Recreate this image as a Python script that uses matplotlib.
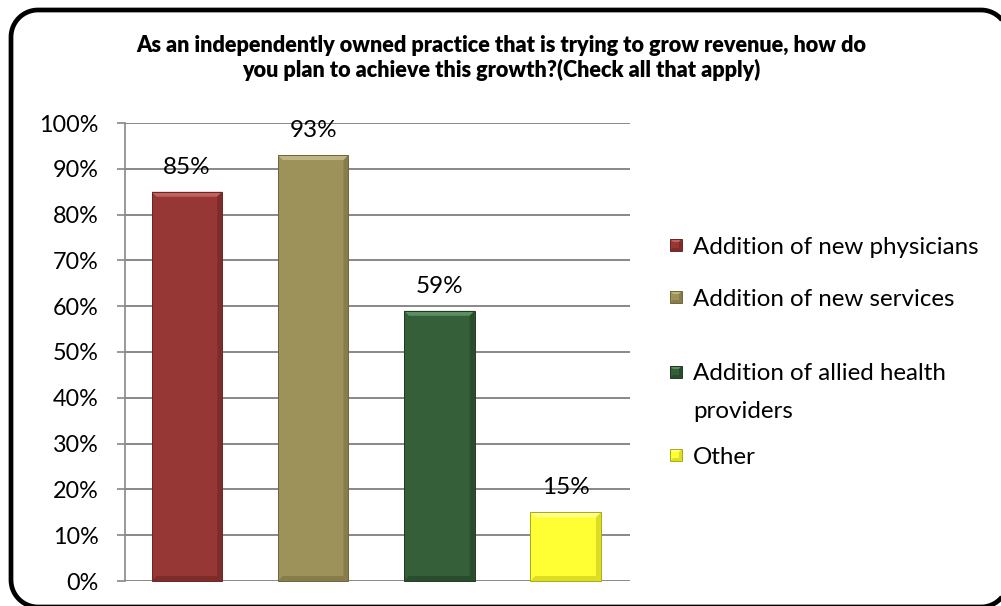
import matplotlib
matplotlib.use("Agg")
import matplotlib.pyplot as plt
from matplotlib.patches import Polygon, Rectangle
from matplotlib.transforms import IdentityTransform
import numpy as np

# ---- data ----
categories = ["Addition of new physicians", "Addition of new services",
              "Addition of allied health\nproviders", "Other"]
values = [85, 93, 59, 15]
value_labels = ["85%", "93%", "59%", "15%"]
yticks = [0, 10, 20, 30, 40, 50, 60, 70, 80, 90, 100]
ytick_labels = ["0%", "10%", "20%", "30%", "40%", "50%", "60%", "70%", "80%", "90%", "100%"]
title = ("As an independently owned practice that is trying to grow revenue, how do\n"
         "you plan to achieve this growth?(Check all that apply)")

# fill / highlight / shadow / edge per series
base_colors = ["#963735", "#9D935A", "#345F39", "#FFFF33"]
light_colors = ["#C86A68", "#C4BC8A", "#65976A", "#FFFF99"]
dark_colors = ["#7A2A28", "#82784A", "#26492A", "#D8D820"]
edge_colors = ["#6A2523", "#6E6638", "#1E3A22", "#A8A818"]

FONT = "Lato"
W, H, DPI = 1001, 606, 100
fig = plt.figure(figsize=(W / DPI, H / DPI), dpi=DPI)
fig.patch.set_facecolor("white")
tr = IdentityTransform()


def fx(px):
    return px / W


def fy(py):
    return 1 - py / H


def rounded_outline(x0, y0, x1, y1, r, n=24):
    """Polyline outline of a rounded rectangle in display pixels."""
    pts = []
    corners = [((x1 - r, y1 - r), 0.0), ((x0 + r, y1 - r), 0.5 * np.pi),
               ((x0 + r, y0 + r), np.pi), ((x1 - r, y0 + r), 1.5 * np.pi)]
    for (cx, cy), a0 in corners:
        for a in np.linspace(a0, a0 + 0.5 * np.pi, n):
            pts.append((cx + r * np.cos(a), cy + r * np.sin(a)))
    return pts


# rounded outer frame, running just past the right and bottom edges
frame = Polygon(rounded_outline(11, H - 607, 1008, H - 10, 27), closed=True,
                transform=tr, facecolor="none", edgecolor="black",
                linewidth=3.4, joinstyle="round", zorder=-1)
fig.patches.append(frame)

ax = fig.add_axes([fx(125), fy(581), fx(630) - fx(125), fy(123) - fy(581)])
ax.set_facecolor("none")

x = np.arange(len(values))
bars = ax.bar(x, values, width=0.56, color=base_colors, edgecolor="none", zorder=3)
ax.set_xlim(-0.49, 3.51)
ax.set_ylim(0, 100)
ax.set_yticks(yticks)
ax.set_yticklabels(ytick_labels, family=FONT, fontsize=16.8, color="#000000")
ax.set_xticks([])
ax.yaxis.grid(True, color="#888888", linewidth=1.4, zorder=0)
ax.tick_params(axis="y", length=6, width=1.2, color="#888888", pad=13)
for s in ["top", "right", "bottom"]:
    ax.spines[s].set_visible(False)
ax.spines["left"].set_color("#888888")
ax.spines["left"].set_linewidth(1.2)

# value labels above each bar
for xi, v, lab in zip(x, values, value_labels):
    ax.annotate(lab, (xi, v), xytext=(0, 10), textcoords="offset points",
                ha="center", va="bottom", family=FONT, fontsize=17.5, zorder=5)

fig.canvas.draw()


def bevel(x0, y0, x1, y1, base, light, dark, edge, b, z):
    """Draw a bevelled box in display pixels (y0 bottom, y1 top)."""
    polys = [
        ([(x0, y1), (x1, y1), (x1 - b, y1 - b), (x0 + b, y1 - b)], light),
        ([(x0, y0), (x1, y0), (x1 - b, y0 + b), (x0 + b, y0 + b)], dark),
        ([(x1, y0), (x1, y1), (x1 - b, y1 - b), (x1 - b, y0 + b)], dark),
    ]
    for pts, c in polys:
        fig.patches.append(Polygon(pts, closed=True, transform=tr, facecolor=c,
                                   edgecolor="none", alpha=0.85, zorder=z))
    fig.patches.append(Rectangle((x0, y0), x1 - x0, y1 - y0, transform=tr,
                                 facecolor="none", edgecolor=edge,
                                 linewidth=0.7, zorder=z + 0.1))


for bar, c, l, d, e in zip(bars, base_colors, light_colors, dark_colors, edge_colors):
    bb = bar.get_window_extent()
    bevel(bb.x0, bb.y0, bb.x1, bb.y1, c, l, d, e, 5, 4)

# legend drawn as text rows with bevelled swatches
legend_y = [245, 297, 372, 455]
line_gap = 38
for yy, lab, c, l, d, e in zip(legend_y, categories, base_colors, light_colors,
                               dark_colors, edge_colors):
    s = 12
    cx = 676
    py = H - yy
    fig.patches.append(Rectangle((cx - s / 2, py - s / 2), s, s, transform=tr,
                                 facecolor=c, edgecolor="none", zorder=4))
    bevel(cx - s / 2, py - s / 2, cx + s / 2, py + s / 2, c, l, d, e, 3, 4.5)
    for k, line in enumerate(lab.split("\n")):
        fig.text(fx(693), fy(yy + k * line_gap), line, ha="left",
                 va="center_baseline", family=FONT, fontsize=17.4)

fig.text(fx(501), fy(58), title, ha="center", va="center", family=FONT,
         fontweight="heavy", fontsize=15.6, linespacing=1.2)

fig.savefig("out.png", dpi=DPI)
